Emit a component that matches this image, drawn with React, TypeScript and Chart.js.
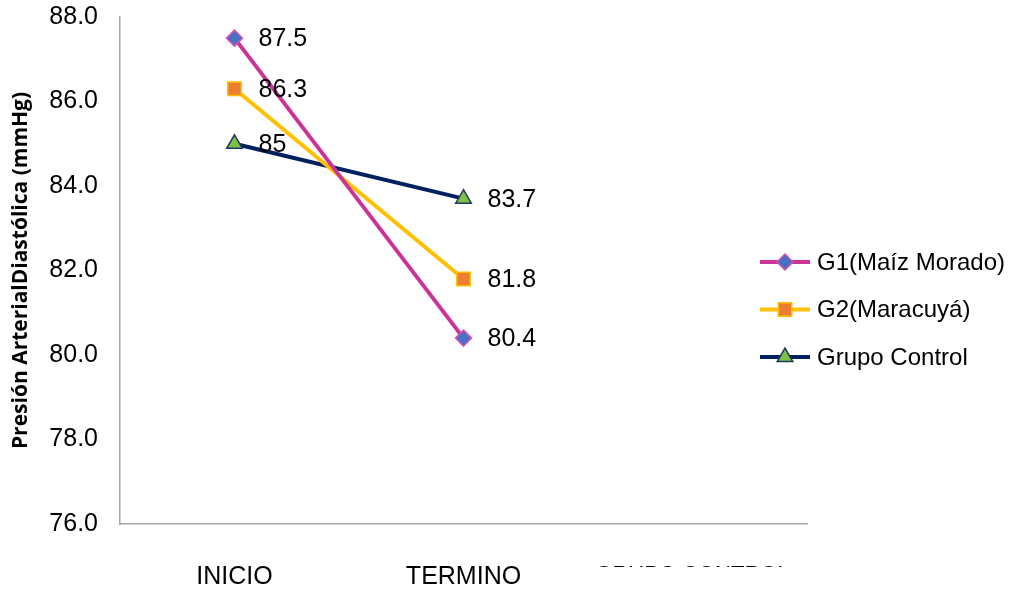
import React, { useEffect, useRef } from "react";
import { Chart, registerables } from "chart.js";
import { drawPoint } from "chart.js/helpers";

Chart.register(...registerables);

const categories = ["INICIO", "TERMINO", "GRUPO CONTROL"];
const g1Values = [87.5, 80.4, null];
const g2Values = [86.3, 81.8, null];
const controlValues = [85, 83.7, null];
const seriesNames = ["G1(Maíz Morado)", "G2(Maracuyá)", "Grupo Control"];
const yMin = 76;
const yMax = 88;
const yStep = 2;
const yTitle = "Presión ArterialDiastólica (mmHg)";

const FONT = "'Liberation Sans', Arial, sans-serif";

const dataLabelsPlugin = {
  id: "dataLabels",
  afterDatasetsDraw(chart: any) {
    const ctx = chart.ctx;
    ctx.save();
    ctx.font = `25px ${FONT}`;
    ctx.fillStyle = "#000";
    ctx.textAlign = "left";
    ctx.textBaseline = "middle";
    chart.data.datasets.forEach((ds: any, i: number) => {
      const meta = chart.getDatasetMeta(i);
      meta.data.forEach((pt: any, j: number) => {
        const v = ds.data[j];
        if (v === null || v === undefined) return;
        ctx.fillText(String(v), pt.x + 24, pt.y + 1);
      });
    });
    ctx.restore();
  },
};

const legendPlugin = {
  id: "customLegend",
  afterDraw(chart: any) {
    const ctx = chart.ctx;
    const x0 = 760;
    const yStart = 262;
    const gap = 47.5;
    ctx.save();
    chart.data.datasets.forEach((ds: any, i: number) => {
      const y = yStart + i * gap;
      ctx.strokeStyle = ds.borderColor;
      ctx.lineWidth = ds.borderWidth;
      ctx.beginPath();
      ctx.moveTo(x0, y);
      ctx.lineTo(x0 + 50, y);
      ctx.stroke();
      ctx.fillStyle = ds.pointBackgroundColor;
      ctx.strokeStyle = ds.pointBorderColor;
      ctx.lineWidth = ds.pointBorderWidth;
      drawPoint(
        ctx,
        { pointStyle: ds.pointStyle, radius: ds.pointRadius, rotation: 0, borderWidth: ds.pointBorderWidth },
        x0 + 25,
        y
      );
      ctx.fillStyle = "#000";
      ctx.font = `24px ${FONT}`;
      ctx.textAlign = "left";
      ctx.textBaseline = "middle";
      ctx.fillText(ds.label, x0 + 57, y + 1);
    });
    ctx.restore();
  },
};

export default function App() {
  const ref = useRef<HTMLCanvasElement | null>(null);

  useEffect(() => {
    if (!ref.current) return;
    const chart = new Chart(ref.current, {
      type: "line",
      data: {
        labels: categories,
        datasets: [
          {
            label: seriesNames[0],
            data: g1Values,
            borderColor: "#CC3399",
            borderWidth: 4,
            pointStyle: "rectRot",
            pointRadius: 8,
            pointBackgroundColor: "#4472C4",
            pointBorderColor: "#D94FB0",
            pointBorderWidth: 1.5,
          },
          {
            label: seriesNames[1],
            data: g2Values,
            borderColor: "#FFC000",
            borderWidth: 4,
            pointStyle: "rect",
            pointRadius: 9.5,
            pointBackgroundColor: "#ED7D31",
            pointBorderColor: "#FFC000",
            pointBorderWidth: 1.5,
          },
          {
            label: seriesNames[2],
            data: controlValues,
            borderColor: "#002060",
            borderWidth: 4,
            pointStyle: "triangle",
            pointRadius: 9,
            pointBackgroundColor: "#7DC242",
            pointBorderColor: "#1F3864",
            pointBorderWidth: 1.5,
          },
        ],
      },
      options: {
        responsive: false,
        animation: false,
        layout: { padding: { left: 0, right: 203, top: 17, bottom: 0 } },
        plugins: {
          legend: { display: false },
          tooltip: { enabled: false },
        },
        scales: {
          x: {
            type: "category",
            offset: true,
            grid: { display: false, drawTicks: false },
            border: { display: true, color: "#A6A6A6", width: 1.5 },
            ticks: {
              color: "#000",
              font: (c: any) => ({ family: FONT, size: c.index === 2 ? 22 : 25 }),
              padding: 38,
              maxRotation: 0,
              autoSkip: false,
            },
            afterFit(scale: any) {
              scale.height = 66;
              scale.paddingLeft = 0;
              scale.paddingRight = 0;
            },
          },
          y: {
            type: "linear",
            min: yMin,
            max: yMax,
            grid: { display: false, drawTicks: false },
            border: { display: true, color: "#A6A6A6", width: 1.5 },
            ticks: {
              stepSize: yStep,
              color: "#000",
              font: { family: FONT, size: 25 },
              padding: 22,
              callback: (v: any) => Number(v).toFixed(1),
            },
            title: {
              display: true,
              text: yTitle,
              color: "#000",
              font: { family: "'Open Sans', sans-serif", size: 21, weight: "bold" },
              padding: { top: 8, bottom: 0 },
            },
            afterFit(scale: any) {
              scale.width = 120;
              scale.paddingTop = 0;
              scale.paddingBottom = 0;
            },
          },
        },
      },
      plugins: [dataLabelsPlugin, legendPlugin],
    });
    return () => chart.destroy();
  }, []);

  return (
    <div style={{ position: "fixed", left: 0, top: 0, width: 1010, height: 590, background: "#fff" }}>
      <canvas ref={ref} width={1010} height={590} style={{ display: "block" }} />
      <div
        style={{
          position: "absolute",
          left: 585,
          top: 567,
          width: 215,
          height: 23,
          background: "#fff",
        }}
      />
    </div>
  );
}
